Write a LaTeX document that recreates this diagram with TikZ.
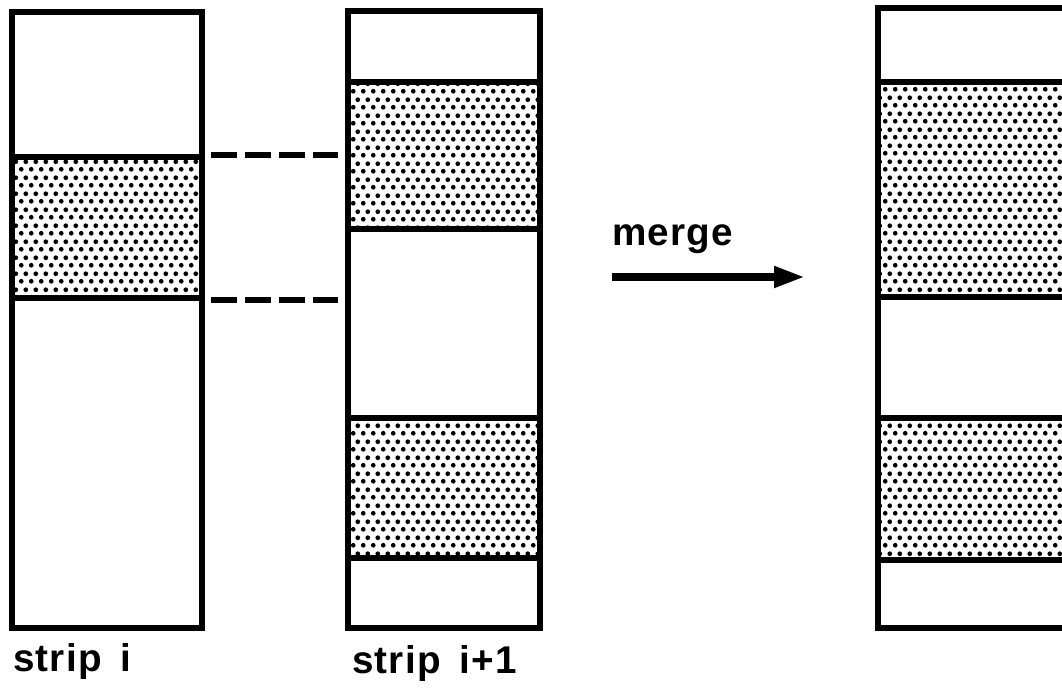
\documentclass[tikz,border=0pt]{standalone}
\usepackage{fontspec}
\setmainfont{Liberation Sans}
\newfontfamily\lblfont[LetterSpace=3,WordSpace=1.6]{Liberation Sans}
\usetikzlibrary{patterns,arrows.meta}
\pgfdeclarepatternformonly{hexdots}{\pgfqpoint{0pt}{0pt}}{\pgfqpoint{5.406pt}{8.82pt}}{\pgfqpoint{5.406pt}{8.82pt}}{%
  \pgfpathcircle{\pgfqpoint{1.35pt}{2.2pt}}{1.4pt}%
  \pgfpathcircle{\pgfqpoint{4.05pt}{6.61pt}}{1.4pt}%
  \pgfusepath{fill}}
\tikzset{
  outline/.style={line width=0.11cm, line join=miter},
  bandline/.style={line width=0.11cm},
  dots/.style={pattern=hexdots, pattern color=black},
  dashlink/.style={line width=0.11cm, dash pattern=on 0.52cm off 0.16cm},
  bigarrow/.style={line width=0.15cm, -{Triangle[length=0.62cm,width=0.4cm]}},
  lbl/.style={font=\lblfont\bfseries\fontsize{22}{26}\selectfont, inner sep=0pt, anchor=base west}
}
\begin{document}
\begin{tikzpicture}[x=0.02cm,y=-0.02cm]
\useasboundingbox (0,0) rectangle (1062,688);
\begin{scope}
\clip (0,0) rectangle (1062,688);
% strip i
\path[dots] (12,157) rectangle (202,298);
\draw[bandline] (12,157) -- (202,157) (12,298) -- (202,298);
\draw[outline] (12,12) rectangle (202,628);
% strip i+1
\path[dots] (348,82) rectangle (540,229);
\path[dots] (348,418) rectangle (540,558);
\draw[bandline] (348,82) -- (540,82) (348,229) -- (540,229)
                (348,418) -- (540,418) (348,558) -- (540,558);
\draw[outline] (348,11) rectangle (540,628);
% merged strip
\path[dots] (878,82) rectangle (1080,297);
\path[dots] (878,418) rectangle (1080,560);
\draw[bandline] (878,82) -- (1080,82) (878,297) -- (1080,297)
                (878,418) -- (1080,418) (878,560) -- (1080,560);
\draw[outline] (878,8) rectangle (1090,628);
\end{scope}
% dashed links
\coordinate (d1a) at (211,155);
\coordinate (d1b) at (338,155);
\coordinate (d2a) at (211,300);
\coordinate (d2b) at (338,300);
\draw[dashlink] (d1a) -- (d1b);
\draw[dashlink] (d2a) -- (d2b);
% merge arrow
\node[lbl] (merge) at (612,246) {merge};
\coordinate (ma) at (612,277);
\coordinate (mb) at (805,277);
\draw[bigarrow] (ma) -- (mb);
% labels
\node[lbl] (l1) at (13,672) {strip i};
\node[lbl] (l2) at (352,674) {strip i+1};
\end{tikzpicture}
\end{document}
